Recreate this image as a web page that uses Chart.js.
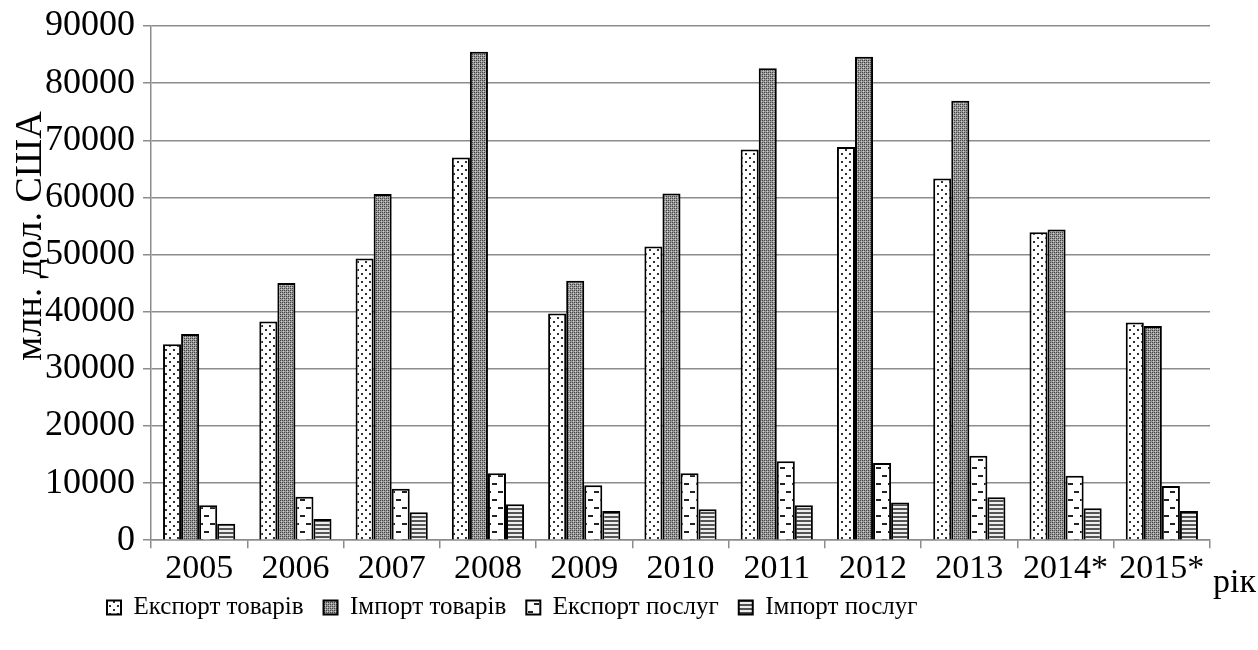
<!DOCTYPE html>
<html>
<head>
<meta charset="utf-8">
<script src="https://cdn.jsdelivr.net/npm/chart.js@4.4.1/dist/chart.umd.min.js"></script>
<style>
  html, body { margin: 0; padding: 0; background: #fff; }
  #wrap { width: 1258px; height: 650px; }
</style>
</head>
<body>
<div id="wrap"><canvas id="myChart"></canvas></div>
<script>
// data
const years = ['2005', '2006', '2007', '2008', '2009', '2010', '2011', '2012', '2013', '2014*', '2015*'];
const exportGoods = [34300, 38300, 49300, 67000, 39700, 51400, 68400, 68800, 63300, 53900, 38100];
const importGoods = [36100, 45000, 60600, 85500, 45400, 60700, 82600, 84600, 76900, 54400, 37500];
const exportServices = [6100, 7600, 9000, 11700, 9600, 11700, 13800, 13500, 14800, 11300, 9500];
const importServices = [2900, 3700, 4900, 6300, 5100, 5400, 6100, 6600, 7500, 5600, 5100];
const seriesNames = ['Експорт товарів', 'Імпорт товарів', 'Експорт послуг', 'Імпорт послуг'];
const yTicks = [0, 10000, 20000, 30000, 40000, 50000, 60000, 70000, 80000, 90000];

const ctx = document.getElementById('myChart').getContext('2d');
const FONT = "'Liberation Serif', 'Times New Roman', serif";

// small tiles for the hatch fills
function makePattern(w, h, paint) {
  const c = document.createElement('canvas');
  c.width = w; c.height = h;
  const g = c.getContext('2d');
  paint(g);
  return ctx.createPattern(c, 'repeat');
}

const dots = makePattern(8, 8, g => {
  g.fillStyle = '#fff'; g.fillRect(0, 0, 8, 8);
  g.fillStyle = '#333';
  g.fillRect(1, 1, 2, 2);
  g.fillRect(5, 5, 2, 2);
});
const darkCheck = makePattern(4, 4, g => {
  g.fillStyle = '#9a9a9a'; g.fillRect(0, 0, 4, 4);
  g.fillStyle = '#444';
  g.fillRect(0, 0, 1, 1); g.fillRect(2, 2, 1, 1);
  g.fillRect(2, 0, 1, 1); g.fillRect(0, 2, 1, 1);
  g.fillStyle = '#d0d0d0';
  g.fillRect(1, 1, 1, 1); g.fillRect(3, 3, 1, 1);
});
const dashes = makePattern(12, 16, g => {
  g.fillStyle = '#fff'; g.fillRect(0, 0, 12, 16);
  g.fillStyle = '#222';
  g.fillRect(0, 3, 5, 2);
  g.fillRect(6, 11, 5, 2);
});
const stripes = makePattern(4, 4, g => {
  g.fillStyle = '#eee'; g.fillRect(0, 0, 4, 4);
  g.fillStyle = '#555'; g.fillRect(0, 0, 4, 2);
});

// extra texts: rotated y title and the "рік" mark at the end of the x axis
const extraText = {
  id: 'extraText',
  afterDraw(chart) {
    const c = chart.ctx;
    const x = chart.scales.x;
    c.save();
    c.fillStyle = '#000';
    c.font = '38px ' + FONT;
    c.textAlign = 'center';
    c.textBaseline = 'middle';
    c.translate(31, 236);
    c.rotate(-Math.PI / 2);
    c.fillText('млн. дол. США', 0, 0);
    c.restore();

    c.save();
    c.fillStyle = '#000';
    c.font = '34px ' + FONT;
    c.textAlign = 'left';
    c.textBaseline = 'middle';
    c.fillText('рік', x.right + 3, x.top + 43);
    c.restore();
  }
};

// move the legend row to where the reference has it
const legendShift = {
  id: 'legendShift',
  afterLayout(chart) {
    const lg = chart.legend;
    lg.top -= 14;
    lg.bottom -= 14;
    lg.left += 50;
    lg.right += 50;
  }
};

const myChart = new Chart(ctx, {
  type: 'bar',
  data: {
    labels: years,
    datasets: [
      { label: seriesNames[0], data: exportGoods, backgroundColor: dots },
      { label: seriesNames[1], data: importGoods, backgroundColor: darkCheck },
      { label: seriesNames[2], data: exportServices, backgroundColor: dashes },
      { label: seriesNames[3], data: importServices, backgroundColor: stripes }
    ].map(ds => Object.assign(ds, {
      borderColor: '#000',
      borderWidth: 2,
      borderSkipped: 'bottom',
      categoryPercentage: 0.75,
      barPercentage: 1
    }))
  },
  options: {
    responsive: true,
    maintainAspectRatio: false,
    animation: false,
    layout: { padding: { left: 37, right: 48, top: 0, bottom: 6 } },
    plugins: {
      tooltip: { enabled: false },
      legend: {
        position: 'bottom',
        align: 'start',
        labels: {
          font: { family: FONT, size: 25, lineHeight: 1.0 },
          color: '#000',
          boxWidth: 14,
          boxHeight: 14,
          padding: 20
        }
      }
    },
    scales: {
      x: {
        offset: true,
        grid: {
          offset: true,
          drawOnChartArea: false,
          drawTicks: true,
          tickLength: 8,
          color: '#8c8c8c',
          lineWidth: 1.5
        },
        border: { color: '#8c8c8c', width: 1.5 },
        ticks: {
          font: { family: FONT, size: 34 },
          color: '#000',
          padding: 0
        }
      },
      y: {
        min: 0,
        max: yTicks[yTicks.length - 1],
        afterBuildTicks(scale) {
          scale.ticks = yTicks.map(v => ({ value: v }));
        },
        grid: {
          color: '#8c8c8c',
          lineWidth: 1.5,
          tickLength: 8
        },
        border: { color: '#8c8c8c', width: 1.5 },
        ticks: {
          font: { family: FONT, size: 36, lineHeight: 1.0 },
          color: '#000',
          padding: 8,
          callback: v => String(v)
        }
      }
    }
  },
  plugins: [extraText, legendShift]
});
</script>
</body>
</html>
